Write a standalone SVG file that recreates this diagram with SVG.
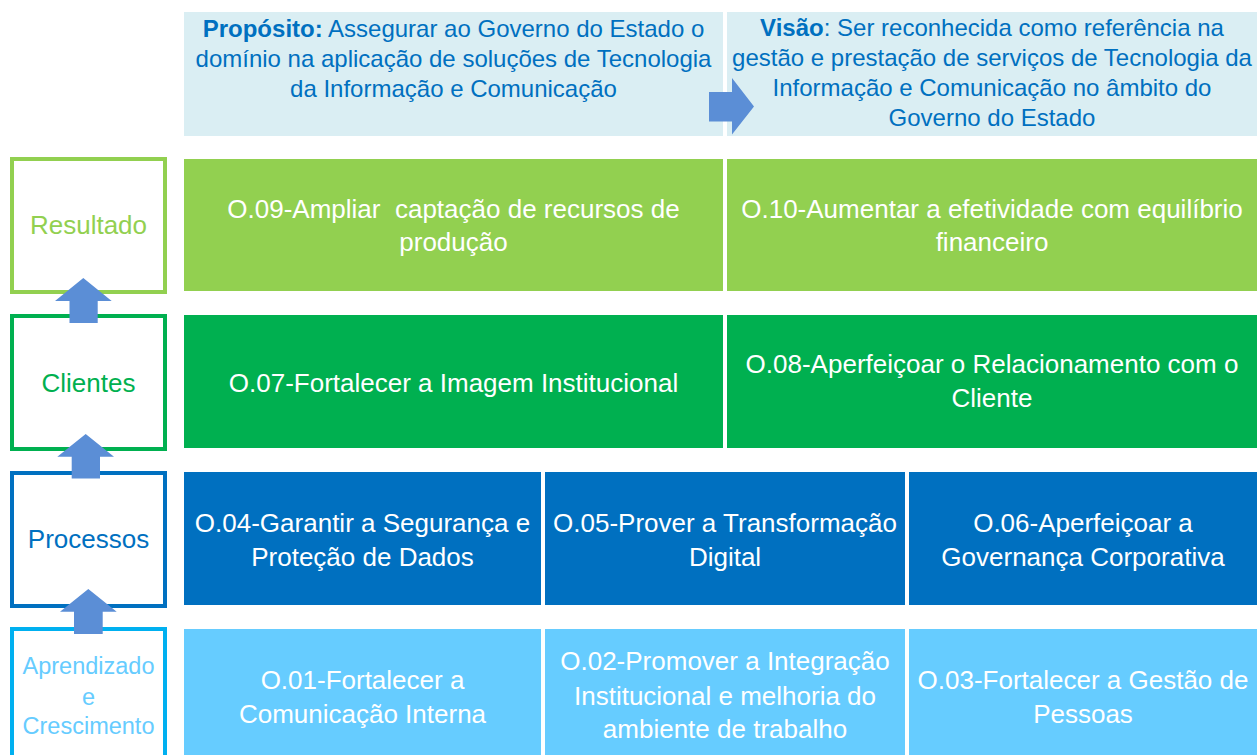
<svg xmlns="http://www.w3.org/2000/svg" width="1257" height="755" viewBox="0 0 1257 755">
<style>
text{font-family:"Liberation Sans",Arial,sans-serif;text-anchor:middle}
.hdr{fill:#DAEEF3}
.ht{font-size:24px;fill:#0070C0}
.b{font-weight:bold}
.bt{font-size:26px;fill:#FFFFFF}
.lbl{fill:#FFFFFF;stroke-width:4}
.arr{fill:#5B8ED6}
.r1{fill:#92D050}.r2{fill:#00B050}.r3{fill:#0070C0}.r4{fill:#66CCFF}
</style>
<rect width="1257" height="755" fill="#FFFFFF"/>
<g id="proposito">
<rect class="hdr" x="184" y="12" width="539" height="124"/>
<text class="ht" x="453.5" y="37"><tspan class="b">Propósito:</tspan> Assegurar ao Governo do Estado o</text>
<text class="ht" x="453.5" y="67">domínio na aplicação de soluções de Tecnologia</text>
<text class="ht" x="453.5" y="97">da Informação e Comunicação</text>
</g>
<g id="visao">
<rect class="hdr" x="727" y="12" width="530" height="124"/>
<text class="ht" x="992" y="36"><tspan class="b">Visão</tspan>: Ser reconhecida como referência na</text>
<text class="ht" x="992" y="66">gestão e prestação de serviços de Tecnologia da</text>
<text class="ht" x="992" y="96">Informação e Comunicação no âmbito do</text>
<text class="ht" x="992" y="126">Governo do Estado</text>
</g>
<g id="resultado">
<rect class="lbl" x="12" y="159" width="153" height="133" stroke="#92D050"/>
<text x="88.5" y="234" font-size="26" fill="#92D050">Resultado</text>
</g>
<g id="clientes">
<rect class="lbl" x="12" y="316" width="153" height="133" stroke="#00B050"/>
<text x="88.5" y="392" font-size="26" fill="#00B050">Clientes</text>
</g>
<g id="processos">
<rect class="lbl" x="12" y="473" width="153" height="133" stroke="#0070C0"/>
<text x="88.5" y="548" font-size="26" fill="#0070C0">Processos</text>
</g>
<g id="aprendizado">
<rect class="lbl" x="12" y="629" width="153" height="140" stroke="#00B0F0"/>
<text x="88.5" y="674" font-size="23.5" fill="#66CCFF">Aprendizado</text>
<text x="88.5" y="705" font-size="23.5" fill="#66CCFF">e</text>
<text x="88.5" y="734" font-size="23.5" fill="#66CCFF">Crescimento</text>
</g>
<g id="o09">
<rect class="r1" x="184" y="159" width="539" height="132"/>
<text class="bt" x="453.5" y="218" xml:space="preserve" style="white-space:pre">O.09-Ampliar  captação de recursos de</text>
<text class="bt" x="453.5" y="251">produção</text>
</g>
<g id="o10">
<rect class="r1" x="727" y="159" width="530" height="132"/>
<text class="bt" x="992" y="218">O.10-Aumentar a efetividade com equilíbrio</text>
<text class="bt" x="992" y="251">financeiro</text>
</g>
<g id="o07">
<rect class="r2" x="184" y="315" width="539" height="133"/>
<text class="bt" x="453.5" y="392">O.07-Fortalecer a Imagem Institucional</text>
</g>
<g id="o08">
<rect class="r2" x="727" y="315" width="530" height="133"/>
<text class="bt" x="992" y="373">O.08-Aperfeiçoar o Relacionamento com o</text>
<text class="bt" x="992" y="407">Cliente</text>
</g>
<g id="o04">
<rect class="r3" x="184" y="472" width="357" height="133"/>
<text class="bt" x="362.5" y="532">O.04-Garantir a Segurança e</text>
<text class="bt" x="362.5" y="566">Proteção de Dados</text>
</g>
<g id="o05">
<rect class="r3" x="545" y="472" width="360" height="133"/>
<text class="bt" x="725" y="532">O.05-Prover a Transformação</text>
<text class="bt" x="725" y="566">Digital</text>
</g>
<g id="o06">
<rect class="r3" x="909" y="472" width="348" height="133"/>
<text class="bt" x="1083" y="532">O.06-Aperfeiçoar a</text>
<text class="bt" x="1083" y="566">Governança Corporativa</text>
</g>
<g id="o01">
<rect class="r4" x="184" y="629" width="357" height="126"/>
<text class="bt" x="362.5" y="689">O.01-Fortalecer a</text>
<text class="bt" x="362.5" y="723">Comunicação Interna</text>
</g>
<g id="o02">
<rect class="r4" x="545" y="629" width="360" height="126"/>
<text class="bt" x="725" y="670">O.02-Promover a Integração</text>
<text class="bt" x="725" y="705">Institucional e melhoria do</text>
<text class="bt" x="725" y="738">ambiente de trabalho</text>
</g>
<g id="o03">
<rect class="r4" x="909" y="629" width="348" height="126"/>
<text class="bt" x="1083" y="689">O.03-Fortalecer a Gestão de</text>
<text class="bt" x="1083" y="723">Pessoas</text>
</g>
<g id="connectors">
<polygon class="arr" points="709,92 732,92 732,78 754,106.5 732,134.5 732,121.5 709,121.5"/>
<polygon class="arr" points="69.5,323 69.5,301 55,301 83.3,278 111.7,301 97.7,301 97.7,323"/>
<polygon class="arr" points="71.7,478.5 71.7,456.7 57.3,456.7 85.7,434 114,456.7 100,456.7 100,478.5"/>
<polygon class="arr" points="74,634 74,611.7 60,611.7 88.3,589 116.7,611.7 102.7,611.7 102.7,634"/>
</g>
</svg>
